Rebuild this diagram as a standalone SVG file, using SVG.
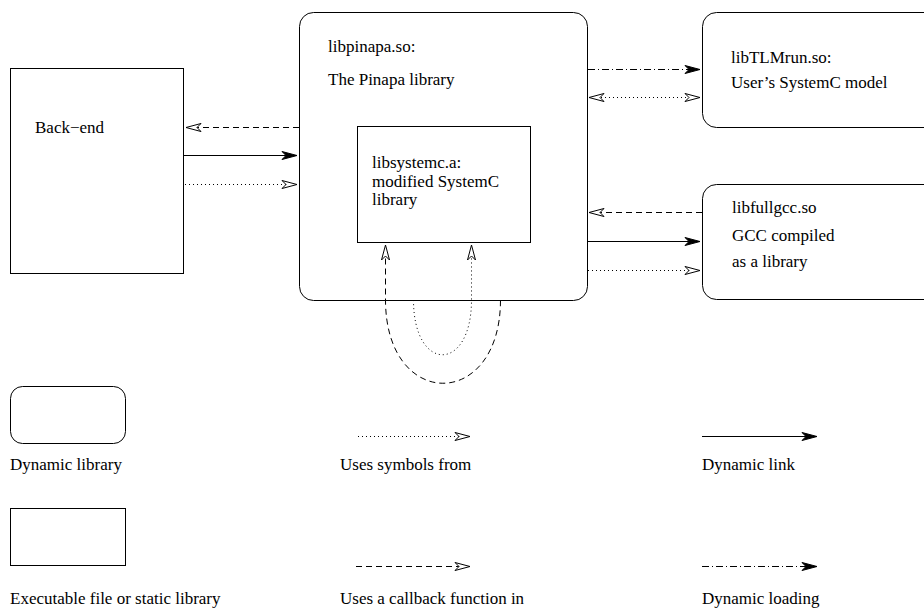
<svg xmlns="http://www.w3.org/2000/svg" width="924" height="609" viewBox="0 0 924 609">
<style>
text{font-family:"Liberation Serif","Times New Roman",serif;font-size:17px;fill:#000}
.box{fill:none;stroke:#000;stroke-width:1}
.ln{fill:none;stroke:#000;stroke-width:1}
.dash{stroke-dasharray:6 4}
.dot{stroke-dasharray:1 3}
.dd{stroke-dasharray:7 3 1 3}
</style>
<defs>
<marker id="open" markerUnits="userSpaceOnUse" markerWidth="20" markerHeight="12" viewBox="-16 -6 18 12" refX="0" refY="0" orient="auto-start-reverse">
<path d="M0,0 L-15,-4 L-11,0 L-15,4 Z" fill="#fff" stroke="#000" stroke-width="1"/>
</marker>
<marker id="fill" markerUnits="userSpaceOnUse" markerWidth="20" markerHeight="12" viewBox="-16 -6 18 12" refX="0" refY="0" orient="auto">
<path d="M0,0 L-15,-4 L-11,0 L-15,4 Z" fill="#000" stroke="#000" stroke-width="1"/>
</marker>
</defs>
<g id="backend"><rect class="box" x="10.5" y="68.5" width="173" height="205"/><text x="35" y="133">Back−end</text></g>
<g id="libpinapa"><rect class="box" x="299.5" y="12.5" width="288" height="288" rx="14"/><text x="328" y="52">libpinapa.so:</text><text x="328" y="85">The Pinapa library</text></g>
<g id="libsystemc"><rect class="box" x="357.5" y="126.5" width="173" height="116"/><text x="372" y="168">libsystemc.a:</text><text x="372" y="187">modified SystemC</text><text x="372" y="205">library</text></g>
<g id="libTLMrun"><rect class="box" x="702.5" y="12.5" width="240" height="115" rx="14"/><text x="731" y="63">libTLMrun.so:</text><text x="731" y="88">User’s SystemC model</text></g>
<g id="libfullgcc"><rect class="box" x="702.5" y="184.5" width="240" height="115" rx="14"/><text x="732" y="213">libfullgcc.so</text><text x="732" y="241">GCC compiled</text><text x="732" y="267">as a library</text></g>
<g id="connectors">
<path class="ln dash" d="M299,127.5 H186" marker-end="url(#open)"/>
<path class="ln" d="M184,155.5 H297" marker-end="url(#fill)"/>
<path class="ln dot" d="M185,184.5 H297" marker-end="url(#open)"/>
<path class="ln dd" d="M588,69.5 H700" marker-end="url(#fill)"/>
<path class="ln dot" d="M589,97.5 H700" marker-start="url(#open)" marker-end="url(#open)"/>
<path class="ln dash" d="M702,212.5 H589" marker-end="url(#open)"/>
<path class="ln" d="M588,241.5 H700" marker-end="url(#fill)"/>
<path class="ln dot" d="M588,270.5 H700" marker-end="url(#open)"/>
<path class="ln dash" d="M500.5,300 C500.5,411 385.5,411 385.5,300 V245" marker-end="url(#open)"/>
<path class="ln dot" d="M413.5,300 C413.5,373 471.5,373 471.5,300 V245" marker-end="url(#open)"/>
</g>
<g id="legend">
<rect class="box" x="10.5" y="386.5" width="115" height="57" rx="12"/>
<text x="10" y="470">Dynamic library</text>
<rect class="box" x="10.5" y="508.5" width="115" height="57"/>
<text x="10" y="604">Executable file or static library</text>
<path class="ln dot" d="M358,436.5 H470" marker-end="url(#open)"/>
<text x="340" y="470">Uses symbols from</text>
<path class="ln" d="M702,436.5 H817" marker-end="url(#fill)"/>
<text x="702" y="470">Dynamic link</text>
<path class="ln dash" d="M356,566.5 H470" marker-end="url(#open)"/>
<text x="340" y="604">Uses a callback function in</text>
<path class="ln dd" d="M702,566.5 H817" marker-end="url(#fill)"/>
<text x="702" y="604">Dynamic loading</text>
</g>
</svg>
